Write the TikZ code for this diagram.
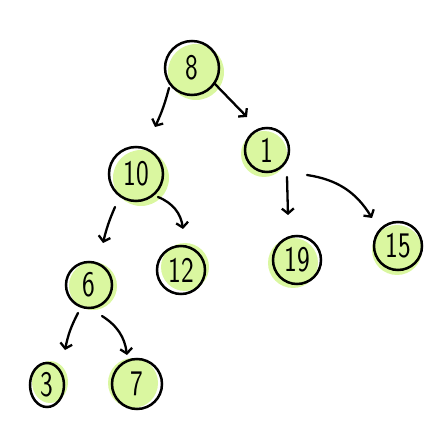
\documentclass[tikz,border=0pt]{standalone}
\usepackage{fontspec}
\usetikzlibrary{arrows.meta,shapes.geometric,calc}
\definecolor{leaf}{RGB}{218,247,160}
\newcommand\narrowdig[1]{\scalebox{0.75}[1]{#1}}
\tikzset{
  x=1pt,y=1pt,
  nd/.style={circle,draw=black,line width=2.5pt,inner sep=0pt,font=\sffamily\fontsize{36}{36}\selectfont},
  gfill/.style={fill=leaf},
  edge/.style={draw=black,line width=2.3pt,line cap=round,-{Straight Barb[length=5pt,width=12pt]}},
}
\begin{document}
\begin{tikzpicture}
\useasboundingbox (0,0) rectangle (444,-427);
% green blobs
\fill[gfill] (196,-72) circle (28);
\fill[gfill] (141,-178) circle (28);
\fill[gfill] (264,-154) circle (23);
\fill[gfill] (293,-263) circle (25);
\fill[gfill] (397,-250) circle (25);
\fill[gfill] (93,-286) circle (24);
\fill[gfill] (185,-267) circle (24);
\fill[gfill] (50,-382) ellipse (18 and 21);
\fill[gfill] (133,-383) circle (25);
% nodes
\node[nd,minimum size=54] (n8) at (192,-68) {\narrowdig{8}};
\node[nd,minimum size=54] (n10) at (136,-174) {\narrowdig{10}};
\node[nd,minimum size=44] (n1) at (267,-150) {\narrowdig{1}};
\node[nd,minimum size=48] (n19) at (297,-260) {\narrowdig{19}};
\node[nd,minimum size=48] (n15) at (398,-246) {\narrowdig{15}};
\node[nd,minimum size=46] (n6) at (89,-285) {\narrowdig{6}};
\node[nd,minimum size=48] (n12) at (181,-270) {\narrowdig{12}};
\node[nd,ellipse,minimum width=34,minimum height=44] (n3) at (47,-385) {\narrowdig{3}};
\node[nd,minimum size=50] (n7) at (137,-384) {\narrowdig{7}};
% edges
\draw[edge] ($(n8)+(-23,-20)$) to[bend left=5] ($(n10)+(19,47)$);
\draw[edge] ($(n8)+(22,-15)$) to ($(n1)+(-20,33)$);
\draw[edge] ($(n10)+(-21,-33)$) to[bend right=5] ($(n6)+(14,42)$);
\draw[edge] ($(n10)+(22,-23)$) to[bend left=30] ($(n12)+(2,41)$);
\draw[edge] ($(n1)+(20,-27)$) to ($(n19)+(-9,45)$);
\draw[edge] ($(n1)+(40,-25)$) to[bend left=25] ($(n15)+(-26,28)$);
\draw[edge] ($(n6)+(-11,-28)$) to[bend right=8] ($(n3)+(18,35)$);
\draw[edge] ($(n6)+(13,-31)$) to[bend left=25] ($(n7)+(-10,29)$);
\end{tikzpicture}
\end{document}
